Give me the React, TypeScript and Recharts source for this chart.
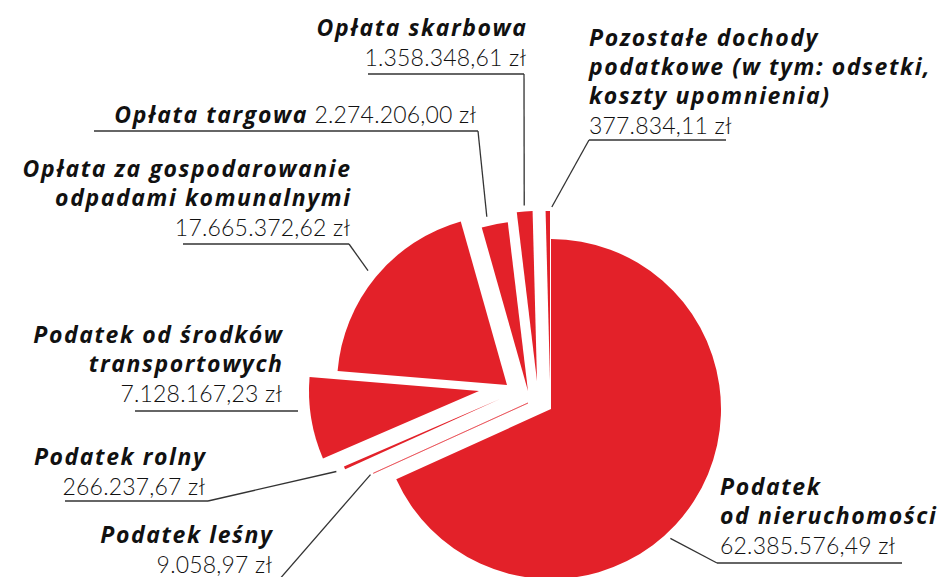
import { PieChart, Pie, Cell } from 'recharts';

// slices clockwise from 12 o'clock
const categories = [
  'Podatek od nieruchomości',
  'Podatek leśny',
  'Podatek rolny',
  'Podatek od środków transportowych',
  'Opłata za gospodarowanie odpadami komunalnymi',
  'Opłata targowa',
  'Opłata skarbowa',
  'Pozostałe dochody podatkowe (w tym: odsetki, koszty upomnienia)',
];
const amounts = [
  62385576.49, 9058.97, 266237.67, 7128167.23, 17665372.62, 2274206.0, 1358348.61, 377834.11,
];
const nameLines = [
  ['Podatek', 'od nieruchomości'],
  ['Podatek leśny'],
  ['Podatek rolny'],
  ['Podatek od środków', 'transportowych'],
  ['Opłata za gospodarowanie', 'odpadami komunalnymi'],
  ['Opłata targowa'],
  ['Opłata skarbowa'],
  ['Pozostałe dochody', 'podatkowe (w tym: odsetki,', 'koszty upomnienia)'],
];

const data = categories.map((name, i) => ({ name, value: amounts[i] }));

const RED = '#e32129';
const CX = 546;
const CY = 404;
const R = 170;
const LH = 29;

// how far each slice is pulled out of the pie
const explode = [
  [0, 0], [-23, -6], [-51, -10], [-72, -18], [-44, -24], [-23, -18], [-14, -28], [-1, -28],
];

// label placement: text anchor, first baseline, underline, leader
const labelPos: any[] = [
  { x: 720, y: 495, anchor: 'start', ul: [717, 902, 563], from: 717, bearing: 137.3, r: 176 },
  { x: 272, y: 543, anchor: 'end', ul: [180, 278, 581], from: 278, r: 173 },
  { x: 205, y: 465, anchor: 'end', ul: [65, 208, 501], from: 208, r: 179 },
  { x: 282, y: 343, anchor: 'end', ul: [135, 298, 411] },
  { x: 350, y: 177, anchor: 'end', ul: [183, 349, 244], from: 349, r: 180 },
  { x: 476, y: 123, anchor: 'end', ul: [94, 478, 131], from: 478, bearing: 346.7, r: 179, inline: true },
  { x: 526, y: 36, anchor: 'end', ul: [368, 524, 74], from: 524, r: 176 },
  { x: 589, y: 46, anchor: 'start', ul: [589, 726, 140], from: 589, bearing: 0.6, r: 174 },
];

const fmt = (v: number) => {
  const [int, dec] = v.toFixed(2).split('.');
  return `${int.replace(/\B(?=(\d{3})+(?!\d))/g, '.')},${dec} zł`;
};

const NAME_LS = 1.6;
const VALUE_LS = 0.2;
const nameStyle = {
  fontFamily: '"Open Sans", sans-serif',
  fontWeight: 700,
  fontStyle: 'italic' as const,
  fontSize: 23,
  letterSpacing: NAME_LS,
};
const valueStyle = { fontFamily: 'Lato, sans-serif', fontWeight: 300, fontSize: 23, letterSpacing: VALUE_LS };

function renderLabel(k: number) {
  return (props: any) => {
    if (props.index !== k) return null;
    const p = labelPos[k];
    const cx = props.cx;
    const cy = props.cy;
    // recharts midAngle is ccw from east; bearing is cw from north
    const bearing = p.bearing ?? 90 - props.midAngle;
    const rad = (bearing * Math.PI) / 180;
    const ex = cx + p.r * Math.sin(rad);
    const ey = cy - p.r * Math.cos(rad);
    const lines = nameLines[k];
    // trailing letter spacing pushes right-aligned text left, compensate
    const nx = p.anchor === 'end' ? p.x + NAME_LS : p.x;
    const vx = p.anchor === 'end' ? p.x + VALUE_LS : p.x;
    return (
      <g key={`lbl-${k}`}>
        {p.inline ? (
          <text x={vx} y={p.y} textAnchor={p.anchor} fill="#111">
            <tspan {...nameStyle}>{lines[0]}</tspan>
            <tspan {...valueStyle}> {fmt(amounts[k])}</tspan>
          </text>
        ) : (
          <>
            {lines.map((ln, j) => (
              <text key={j} x={nx} y={p.y + j * LH} textAnchor={p.anchor} fill="#111" {...nameStyle}>
                {ln}
              </text>
            ))}
            <text x={vx} y={p.y + lines.length * LH + 1} textAnchor={p.anchor} fill="#111" {...valueStyle}>
              {fmt(amounts[k])}
            </text>
          </>
        )}
        <line x1={p.ul[0]} y1={p.ul[2]} x2={p.ul[1]} y2={p.ul[2]} stroke="#333" strokeWidth={1.3} />
        {p.from !== undefined && (
          <line x1={p.from} y1={p.ul[2]} x2={ex} y2={ey} stroke="#333" strokeWidth={1.3} />
        )}
      </g>
    );
  };
}

export default function App() {
  return (
    <div style={{ position: 'absolute', left: 0, top: 0, background: '#fff' }}>
      <PieChart width={942} height={577}>
        {data.map((_, k) => (
          <Pie
            key={k}
            data={data}
            dataKey="value"
            nameKey="name"
            cx={CX + explode[k][0]}
            cy={CY + explode[k][1]}
            outerRadius={R}
            startAngle={90}
            endAngle={-270}
            stroke="none"
            label={renderLabel(k)}
            labelLine={false}
            isAnimationActive={false}
          >
            {data.map((d, i) => (
              <Cell
                key={`cell-${i}`}
                fill={i === k ? RED : 'none'}
                stroke={i === k && d.value < 50000 ? RED : 'none'}
                strokeWidth={0.5}
              />
            ))}
          </Pie>
        ))}
      </PieChart>
    </div>
  );
}
